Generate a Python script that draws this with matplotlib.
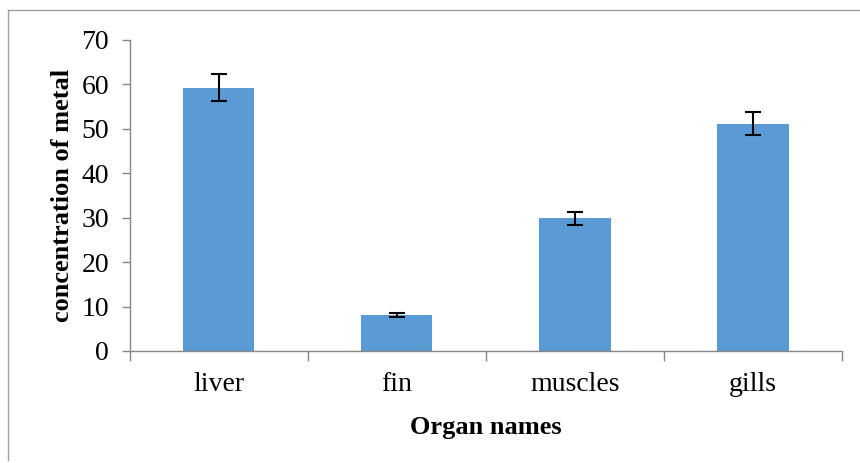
import matplotlib.pyplot as plt
import numpy as np
from matplotlib.lines import Line2D

plt.rcParams['font.family'] = ['Liberation Serif', 'DejaVu Serif']

organs = ['liver', 'fin', 'muscles', 'gills']
conc = [59.2, 8.1, 29.8, 51.1]
err = [3.0, 0.4, 1.5, 2.6]

fig = plt.figure(figsize=(8.6, 4.63), dpi=100)
ax = fig.add_axes([0.151, 0.242, 0.828, 0.672])

x = np.arange(len(organs))
ax.bar(x, conc, width=0.4, color='#5B9BD5', zorder=2)
ax.errorbar(x, conc, yerr=err, fmt='none', ecolor='black', elinewidth=1.5,
            capsize=6, capthick=1.5, zorder=3)

ax.set_xlim(-0.5, 3.5)
ax.set_ylim(0, 70)
ax.set_yticks(np.arange(0, 71, 10))
ax.set_xticks(x)
ax.set_xticklabels(organs)
ax.set_xticks(np.arange(-0.5, 3.6, 1), minor=True)
ax.tick_params(axis='x', which='major', length=0, labelsize=20, pad=15)
ax.tick_params(axis='x', which='minor', length=7, color='#868686', width=1)
ax.tick_params(axis='y', length=6, color='#868686', width=1, labelsize=20, pad=9)

for s in ['top', 'right']:
    ax.spines[s].set_visible(False)
for s in ['left', 'bottom']:
    ax.spines[s].set_color('#868686')
    ax.spines[s].set_linewidth(1)

ax.set_xlabel('Organ names', fontsize=19, fontweight='bold', labelpad=14)
ax.set_ylabel('concentration of metal', fontsize=19, fontweight='bold', labelpad=5)

# outer frame (left and top edges visible)
fig.add_artist(Line2D([8/860, 8/860], [1 - 460/463, 1 - 10/463], transform=fig.transFigure,
                      color='#a0a0a0', lw=1))
fig.add_artist(Line2D([8/860, 1.0], [1 - 10/463, 1 - 10/463], transform=fig.transFigure,
                      color='#a0a0a0', lw=1))

fig.savefig('out.png', dpi=100)
